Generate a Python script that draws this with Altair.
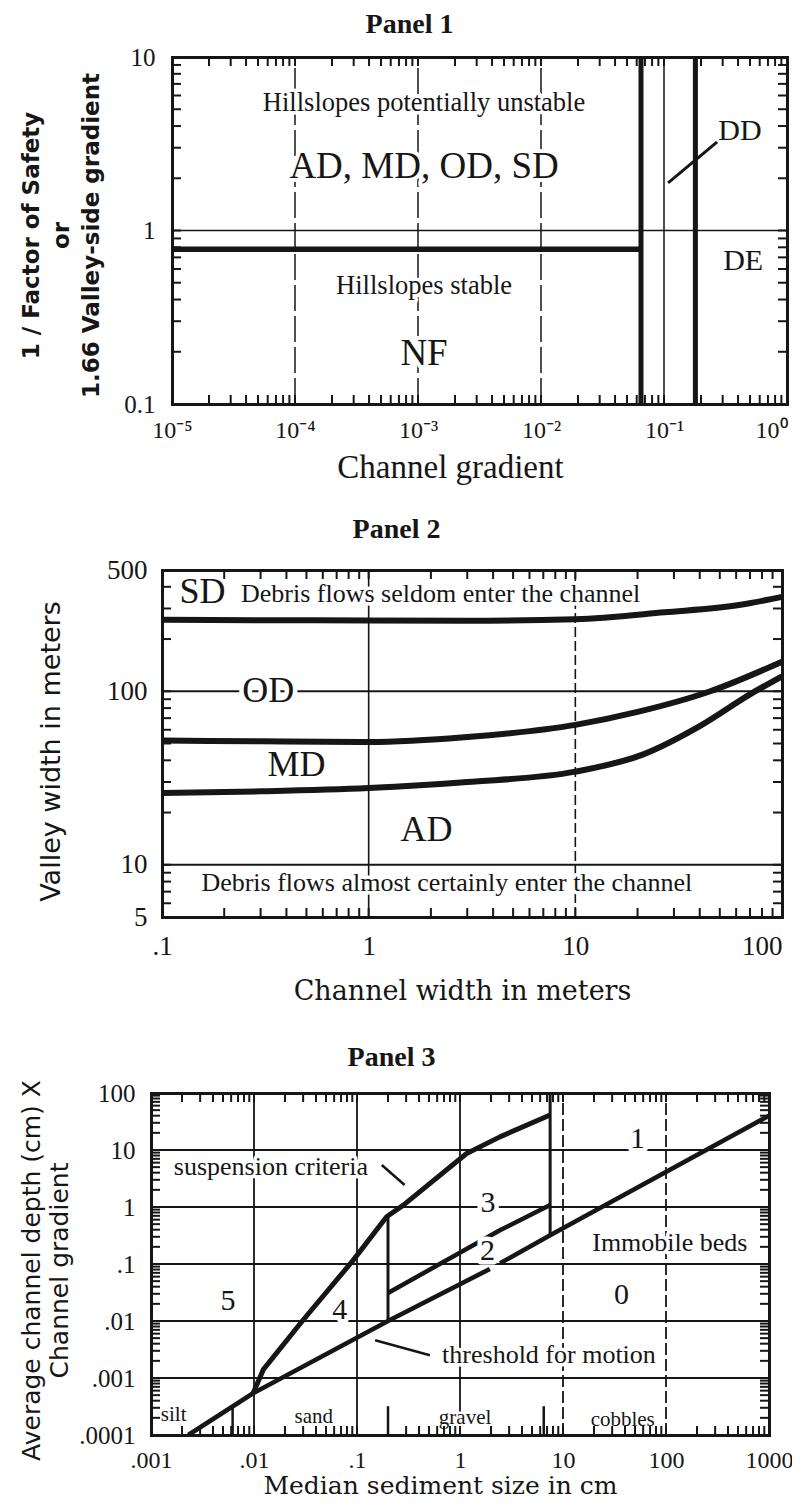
import math
import altair as alt
import pandas as pd

INK = "#161616"
SERIF = "Liberation Serif"
WIDE = "DejaVu Serif"
SANS = "DejaVu Sans"
GROUP_W = 636
GROUP_H = 1378
TICK = 9

# ---------------- Panel 1 values ----------------
p1_x_domain = [1e-5, 1.0]
p1_y_domain = [0.1, 10.0]
p1_x_ticks = [1e-5, 1e-4, 1e-3, 1e-2, 1e-1, 1.0]
p1_x_labels = ["10⁻⁵", "10⁻⁴", "10⁻³", "10⁻²", "10⁻¹", "10⁰"]
p1_y_ticks = [0.1, 1.0, 10.0]
p1_y_labels = ["0.1", "1", "10"]
p1_grid_x = [1e-4, 1e-3, 1e-2]
p1_grid_x_solid = [1e-1]
p1_grid_y = [1.0]
p1_stable_y = [0.78]
p1_stable_x0 = [1e-5]
p1_stable_x1 = [0.065]
p1_bound_x = [0.065, 0.18]
p1_ptr_x = [0.108, 0.28]
p1_ptr_y = [1.88, 3.31]
p1_note_text = ["Hillslopes potentially unstable", "Hillslopes stable"]
p1_note_x = [1.12e-3, 1.12e-3]
p1_note_y = [5.4, 0.48]
p1_class_text = ["AD, MD, OD, SD", "NF"]
p1_class_x = [1.12e-3, 1.12e-3]
p1_class_y = [2.31, 0.195]
p1_side_text = ["DD", "DE"]
p1_side_x = [0.415, 0.44]
p1_side_y = [3.73, 0.67]

# ---------------- Panel 2 values ----------------
p2_x_domain = [0.1, 100.0]
p2_y_domain = [5.0, 500.0]
p2_x_ticks = [0.1, 1.0, 10.0, 100.0]
p2_x_labels = [".1", "1", "10", "100"]
p2_y_ticks = [5.0, 10.0, 100.0, 500.0]
p2_y_labels = ["5", "10", "100", "500"]
p2_grid_x_solid = [1.0]
p2_grid_x_dashed = [10.0]
p2_grid_y = [10.0, 100.0]
p2_sd_x = [0.1, 0.3, 1, 3, 10, 27, 63, 100]
p2_sd_y = [258, 257, 256, 255, 260, 285, 315, 350]
p2_od_x = [0.1, 0.3, 1, 3, 10, 20, 45, 100]
p2_od_y = [52, 51.5, 51, 54.5, 64, 76, 100, 148]
p2_md_x = [0.1, 0.3, 1, 3, 10, 21, 40, 70, 100]
p2_md_y = [25.9, 26.5, 27.7, 30, 34.4, 43, 63, 96, 122]
p2_note_text = ["Debris flows seldom enter the channel",
                "Debris flows almost certainly enter the channel"]
p2_note_x = [2.23, 2.39]
p2_note_y = [362, 7.8]
p2_class_text = ["SD", "OD", "MD", "AD"]
p2_class_x = [0.157, 0.327, 0.448, 1.905]
p2_class_y = [373, 100, 37.6, 15.8]

# ---------------- Panel 3 values ----------------
p3_x_domain = [1e-3, 1e3]
p3_y_domain = [1e-4, 1e2]
p3_x_ticks = [1e-3, 1e-2, 1e-1, 1.0, 10.0, 100.0, 1000.0]
p3_x_labels = [".001", ".01", ".1", "1", "10", "100", "1000"]
p3_y_ticks = [1e-4, 1e-3, 1e-2, 1e-1, 1.0, 10.0, 100.0]
p3_y_labels = [".0001", ".001", ".01", ".1", "1", "10", "100"]
p3_grid_y = [1e-3, 1e-2, 1e-1, 1.0, 10.0]
p3_grid_x_solid = [1e-2, 1e-1, 1.0]
p3_grid_x_dashed = [10.0, 100.0]
p3_susp_x = [0.0098, 0.0123, 0.030, 0.092, 0.194, 0.282, 1.16, 2.44, 7.5]
p3_susp_y = [5.4e-4, 0.0014, 0.0104, 0.117, 0.676, 1.08, 8.7, 17.0, 41.0]
p3_thr_a_x = [0.0023, 0.0098, 0.209, 1.95]
p3_thr_a_y = [1e-4, 5.4e-4, 0.0104, 0.082]
p3_thr_b_x = [2.45, 7.5, 1000]
p3_thr_b_y = [0.103, 0.32, 40]
p3_mid_x = [0.2, 2.44, 7.5]
p3_mid_y = [0.031, 0.39, 1.08]
p3_vert_x = [0.2, 7.5]
p3_vert_y0 = [0.0104, 0.32]
p3_vert_y1 = [0.65, 100]
p3_size_break_x = [0.0062, 0.2, 6.5]
p3_size_break_y0 = [1e-4, 1e-4, 1e-4]
p3_size_break_y1 = [3.2e-4, 3.2e-4, 3.2e-4]
p3_ptr_susp_x = [0.174, 0.29]
p3_ptr_susp_y = [5.46, 2.43]
p3_ptr_thr_x = [0.15, 0.51]
p3_ptr_thr_y = [0.0046, 0.0025]
p3_size_text = ["silt", "sand", "gravel", "cobbles"]
p3_size_x = [0.00166, 0.038, 1.12, 38]
p3_size_y = [2.2e-4, 2.1e-4, 2.0e-4, 1.85e-4]
p3_num_text = ["1", "3", "2", "5", "4", "0"]
p3_num_x = [53, 1.87, 1.85, 0.0056, 0.068, 37]
p3_num_y = [15.5, 1.17, 0.17, 0.022, 0.0156, 0.0286]
p3_note_text = ["suspension criteria", "Immobile beds"]
p3_note_x = [0.0146, 109]
p3_note_y = [5.1, 0.23]
p3_left_text = ["threshold for motion"]
p3_left_x = [0.67]
p3_left_y = [0.0025]


def lbl_expr(values, labels):
    out = ""
    for v, l in zip(values, labels):
        out += "abs(log(datum.value)/LN10-(%.5f))<0.01?'%s':" % (math.log10(v), l)
    return out + "''"


def log_ticks(lo, hi):
    vals = []
    e = math.floor(math.log10(lo) + 1e-9)
    while 10.0 ** e <= hi * 1.0001:
        for m in range(1, 10):
            v = m * 10.0 ** e
            if lo * 0.9999 <= v <= hi * 1.0001:
                vals.append(v)
        e += 1
    return vals


def last_right(threshold):
    return {"condition": {"test": "datum.value > %g" % threshold, "value": "right"},
            "value": "center"}


class Panel:
    def __init__(self, xdom, ydom, xr, top, bottom):
        self.xdom, self.ydom = xdom, ydom
        self.xr, self.top, self.bottom = xr, top, bottom
        self.xs = alt.Scale(type="log", domain=xdom, range=xr)
        self.ys = alt.Scale(type="log", domain=ydom, range=[bottom, top])

    def X(self, field="x", axis=None):
        return alt.X(f"{field}:Q", scale=self.xs, axis=axis)

    def Y(self, field="y", axis=None):
        return alt.Y(f"{field}:Q", scale=self.ys, axis=axis)

    def line(self, xv, yv, w, interp="linear"):
        df = pd.DataFrame({"x": xv, "y": yv, "o": list(range(len(xv)))})
        return alt.Chart(df).mark_line(color=INK, strokeWidth=w, interpolate=interp,
                                       strokeCap="butt", strokeJoin="round").encode(
            x=self.X(), y=self.Y(), order=alt.Order("o:Q"))

    def vsegs(self, xv, y0, y1, w, dash=None):
        df = pd.DataFrame({"x": xv, "y0": y0, "y1": y1})
        kw = dict(color=INK, strokeWidth=w)
        if dash:
            kw["strokeDash"] = dash
        return alt.Chart(df).mark_rule(**kw).encode(
            x=self.X(), y=self.Y("y0"), y2="y1:Q")

    def vfull(self, xv, w, dash=None):
        n = len(xv)
        return self.vsegs(xv, [self.ydom[0]] * n, [self.ydom[1]] * n, w, dash)

    def hsegs(self, yv, x0, x1, w):
        df = pd.DataFrame({"y": yv, "x0": x0, "x1": x1})
        return alt.Chart(df).mark_rule(color=INK, strokeWidth=w).encode(
            y=self.Y(), x=self.X("x0"), x2="x1:Q")

    def hfull(self, yv, w):
        n = len(yv)
        return self.hsegs(yv, [self.xdom[0]] * n, [self.xdom[1]] * n, w)

    def texts(self, tv, xv, yv, font, size, align="center", halo=7):
        df = pd.DataFrame({"t": tv, "x": xv, "y": yv})
        common = dict(font=font, fontSize=size, align=align, baseline="middle")
        enc = dict(x=self.X(), y=self.Y(), text="t:N")
        h = alt.Chart(df).mark_text(color="white", stroke="white", strokeWidth=halo,
                                    strokeJoin="round", **common).encode(**enc)
        t = alt.Chart(df).mark_text(color=INK, **common).encode(**enc)
        return [h, t]

    def minor_ticks(self):
        xt = log_ticks(*self.xdom)
        yt = log_ticks(*self.ydom)
        out = []
        for yv, off in ((self.ydom[0], -TICK / 2), (self.ydom[1], TICK / 2)):
            df = pd.DataFrame({"x": xt, "y": [yv] * len(xt)})
            out.append(alt.Chart(df).mark_tick(orient="vertical", size=TICK, thickness=2,
                                               color=INK, opacity=1, yOffset=off).encode(
                x=self.X(), y=self.Y()))
        for xv, off in ((self.xdom[0], TICK / 2), (self.xdom[1], -TICK / 2)):
            df = pd.DataFrame({"x": [xv] * len(yt), "y": yt})
            out.append(alt.Chart(df).mark_tick(orient="horizontal", size=TICK, thickness=2,
                                               color=INK, opacity=1, xOffset=off).encode(
                x=self.X(), y=self.Y()))
        return out

    def frame(self, xaxis_kw, yaxis_kw, title_kw):
        df = pd.DataFrame({"x": [self.xdom[0]], "y": [self.ydom[0]]})
        base = alt.Chart(df).mark_point(opacity=0, size=1)
        off_l = -self.xr[0]
        off_r = self.xr[1] - GROUP_W
        off_t = -self.top
        off_b = self.bottom - GROUP_H
        dom = dict(domain=True, domainColor=INK, domainWidth=3, domainCap="square",
                   grid=False)
        xa = alt.Axis(orient="bottom", offset=off_b, ticks=False, tickSize=0,
                      labelFont=SERIF, labelColor=INK, labelFlush=False, labelOverlap=False,
                      titleFontWeight="normal", titleColor=INK, titleAlign="center",
                      titleBaseline="middle", titleAngle=0, **xaxis_kw, **dom)
        ya = alt.Axis(orient="left", offset=off_l, ticks=False, tickSize=0,
                      labelFont=SERIF, labelColor=INK, labelFlush=False, labelOverlap=False,
                      titleFont=SANS, titleColor=INK, titleAngle=270, titleAlign="center",
                      titleBaseline="middle", **yaxis_kw, **dom)
        a = base.encode(x=self.X(axis=xa), y=self.Y(axis=ya))
        b = base.encode(
            x=self.X(axis=alt.Axis(orient="top", offset=off_t, labels=False, ticks=False,
                                   tickSize=0, titleFont=SERIF, titleFontSize=28,
                                   titleFontWeight="bold", titleColor=INK,
                                   titleAlign="center", titleBaseline="alphabetic",
                                   **title_kw, **dom)),
            y=self.Y(axis=alt.Axis(orient="right", offset=off_r, labels=False, ticks=False,
                                   title=None, **dom)))
        return self.minor_ticks() + [a, b]


layers = []

# ---------------- Panel 1 ----------------
P1 = Panel(p1_x_domain, p1_y_domain, [21, 636], 0, 347)
layers += [
    P1.vfull(p1_grid_x, 1.5, dash=[26, 5]),
    P1.vfull(p1_grid_x_solid, 1.5),
    P1.hfull(p1_grid_y, 1.6),
    P1.hsegs(p1_stable_y, p1_stable_x0, p1_stable_x1, 5.5),
    P1.vfull(p1_bound_x, 5),
    P1.line(p1_ptr_x, p1_ptr_y, 3),
]
layers += P1.texts(p1_note_text, p1_note_x, p1_note_y, SERIF, 26.5)
layers += P1.texts(p1_class_text, p1_class_x, p1_class_y, SERIF, 37, halo=8)
layers += P1.texts(p1_side_text, p1_side_x, p1_side_y, SERIF, 30, halo=6)
layers += P1.frame(
    dict(values=p1_x_ticks, labelExpr=lbl_expr(p1_x_ticks, p1_x_labels), labelFontSize=24,
         labelAlign=last_right(0.5),
         labelPadding=14, title="Channel gradient", titleFont=SERIF, titleFontSize=33,
         titleX=299, titleY=63),
    dict(values=p1_y_ticks, labelExpr=lbl_expr(p1_y_ticks, p1_y_labels), labelFontSize=25,
         labelPadding=17, title=["1 / Factor of Safety", "or", "1.66 Valley-side gradient"],
         titleFontSize=23, titleFontWeight="bold", titleX=-141, titleY=P1.top + 178,
         titleLineHeight=30),
    dict(title="Panel 1", titleX=258, titleY=-25))

# ---------------- Panel 2 ----------------
P2 = Panel(p2_x_domain, p2_y_domain, [11, 631], 513, 860)
layers += [
    P2.vfull(p2_grid_x_solid, 1.6),
    P2.vfull(p2_grid_x_dashed, 1.6, dash=[10, 4]),
    P2.hfull(p2_grid_y, 1.8),
    P2.line(p2_sd_x, p2_sd_y, 6, "monotone"),
    P2.line(p2_od_x, p2_od_y, 6, "monotone"),
    P2.line(p2_md_x, p2_md_y, 6, "monotone"),
]
layers += P2.texts(p2_note_text, p2_note_x, p2_note_y, SERIF, 26)
layers += P2.texts(p2_class_text, p2_class_x, p2_class_y, SERIF, 36, halo=9)
layers += P2.frame(
    dict(values=p2_x_ticks, labelExpr=lbl_expr(p2_x_ticks, p2_x_labels), labelFontSize=27,
         labelAlign=last_right(50),
         labelPadding=16, title="Channel width in meters", titleFont=WIDE, titleFontSize=27,
         titleX=311, titleY=74),
    dict(values=p2_y_ticks, labelExpr=lbl_expr(p2_y_ticks, p2_y_labels), labelFontSize=27,
         labelPadding=15, title="Valley width in meters", titleFontSize=27,
         titleFontWeight="normal", titleX=-111, titleY=P2.top + 181),
    dict(title="Panel 2", titleX=245, titleY=-33))

# ---------------- Panel 3 ----------------
P3 = Panel(p3_x_domain, p3_y_domain, [0, 618], 1036, 1378)
layers += [
    P3.hfull(p3_grid_y, 2),
    P3.vfull(p3_grid_x_solid, 1.8),
    P3.vfull(p3_grid_x_dashed, 1.8, dash=[12, 4]),
    P3.vsegs(p3_size_break_x, p3_size_break_y0, p3_size_break_y1, 2.5),
    P3.vsegs(p3_vert_x, p3_vert_y0, p3_vert_y1, 3),
    P3.line(p3_thr_a_x, p3_thr_a_y, 4.5),
    P3.line(p3_thr_b_x, p3_thr_b_y, 4.5),
    P3.line(p3_mid_x, p3_mid_y, 4.5),
    P3.line(p3_susp_x, p3_susp_y, 5),
    P3.line(p3_ptr_susp_x, p3_ptr_susp_y, 2.5),
    P3.line(p3_ptr_thr_x, p3_ptr_thr_y, 2.5),
]
layers += P3.texts(p3_size_text, p3_size_x, p3_size_y, SERIF, 21, halo=5)
layers += P3.texts(p3_num_text, p3_num_x, p3_num_y, SERIF, 30, halo=9)
layers += P3.texts(p3_note_text, p3_note_x, p3_note_y, SERIF, 26)
layers += P3.texts(p3_left_text, p3_left_x, p3_left_y, SERIF, 26, align="left")
layers += P3.frame(
    dict(values=p3_x_ticks, labelExpr=lbl_expr(p3_x_ticks, p3_x_labels), labelFontSize=24,
         labelPadding=13, title="Median sediment size in cm", titleFont=WIDE,
         titleFontSize=25, titleX=289, titleY=50),
    dict(values=p3_y_ticks, labelExpr=lbl_expr(p3_y_ticks, p3_y_labels), labelFontSize=25,
         labelPadding=16, title=["Average channel depth (cm) X", "Channel gradient"],
         titleFontSize=25, titleFontWeight="normal", titleX=-120, titleY=P3.top + 177,
         titleLineHeight=28),
    dict(title="Panel 3", titleX=240, titleY=-28))

chart = alt.layer(*layers).resolve_scale(x="independent", y="independent").resolve_axis(
    x="independent", y="independent"
).properties(
    width=GROUP_W, height=GROUP_H,
    padding={"left": 11, "top": 2, "right": -1, "bottom": 0},
).configure_view(strokeWidth=0)

chart.save("out.html", embed_options={"renderer": "svg", "actions": False})
